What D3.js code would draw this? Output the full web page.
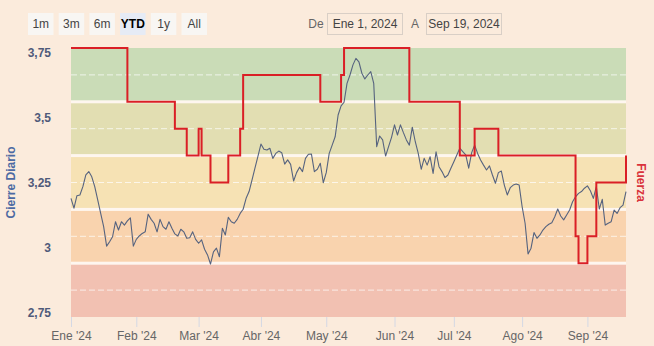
<!DOCTYPE html>
<html><head><meta charset="utf-8">
<script src="https://cdn.jsdelivr.net/npm/d3@7"></script>
<style>
body{margin:0;background:#FBEBDC;}
svg{display:block;font-family:"Liberation Sans",Arial,sans-serif;}
</style>
</head><body>
<svg id="c" width="654" height="346"></svg>
<script>
// ---- DATA ----
const closeDates = [
"2024-01-02","2024-01-03","2024-01-04","2024-01-05","2024-01-08","2024-01-09","2024-01-10","2024-01-11","2024-01-12",
"2024-01-15","2024-01-16","2024-01-17","2024-01-18","2024-01-19","2024-01-22","2024-01-23","2024-01-24","2024-01-25","2024-01-26",
"2024-01-29","2024-01-30","2024-01-31","2024-02-01","2024-02-02","2024-02-05","2024-02-06","2024-02-07","2024-02-08","2024-02-09",
"2024-02-12","2024-02-13","2024-02-14","2024-02-15","2024-02-16","2024-02-19","2024-02-20","2024-02-21","2024-02-22","2024-02-23",
"2024-02-26","2024-02-27","2024-02-28","2024-02-29","2024-03-01","2024-03-04","2024-03-05","2024-03-06","2024-03-07","2024-03-08",
"2024-03-11","2024-03-12","2024-03-13","2024-03-14","2024-03-15","2024-03-18","2024-03-19","2024-03-20","2024-03-21","2024-03-22",
"2024-03-25","2024-03-26","2024-03-27","2024-03-28","2024-03-29","2024-04-01","2024-04-02","2024-04-03","2024-04-04","2024-04-05",
"2024-04-08","2024-04-09","2024-04-10","2024-04-11","2024-04-12","2024-04-15","2024-04-16","2024-04-17","2024-04-18","2024-04-19",
"2024-04-22","2024-04-23","2024-04-24","2024-04-25","2024-04-26","2024-04-29","2024-04-30","2024-05-01","2024-05-02","2024-05-03",
"2024-05-06","2024-05-07","2024-05-08","2024-05-09","2024-05-10","2024-05-13","2024-05-14","2024-05-15","2024-05-16","2024-05-17",
"2024-05-20","2024-05-21","2024-05-22","2024-05-23","2024-05-24","2024-05-27","2024-05-28","2024-05-29","2024-05-30","2024-05-31",
"2024-06-03","2024-06-04","2024-06-05","2024-06-06","2024-06-07","2024-06-10","2024-06-11","2024-06-12","2024-06-13","2024-06-14",
"2024-06-17","2024-06-18","2024-06-19","2024-06-20","2024-06-21","2024-06-24","2024-06-25","2024-06-26","2024-06-27","2024-06-28",
"2024-07-01","2024-07-03","2024-07-04","2024-07-05","2024-07-08","2024-07-09","2024-07-10","2024-07-11","2024-07-12",
"2024-07-15","2024-07-16","2024-07-17","2024-07-18","2024-07-19","2024-07-22","2024-07-23","2024-07-24","2024-07-25","2024-07-26",
"2024-07-29","2024-07-30","2024-07-31","2024-08-01","2024-08-02","2024-08-05","2024-08-06","2024-08-07","2024-08-08","2024-08-09",
"2024-08-12","2024-08-13","2024-08-14","2024-08-15","2024-08-16","2024-08-19","2024-08-20","2024-08-21","2024-08-22","2024-08-23",
"2024-08-26","2024-08-27","2024-08-28","2024-08-29","2024-08-30","2024-09-02","2024-09-03","2024-09-04","2024-09-05","2024-09-06",
"2024-09-09","2024-09-10","2024-09-11","2024-09-12","2024-09-13","2024-09-16","2024-09-17","2024-09-18","2024-09-19"];
const closeValues = [
3.189,3.151,3.199,3.202,3.234,3.279,3.292,3.272,3.234,
3.183,3.131,3.080,3.005,3.022,3.041,3.099,3.067,3.099,3.086,
3.102,3.114,3.005,3.031,3.044,3.054,3.060,3.128,3.108,3.093,
3.060,3.108,3.080,3.070,3.099,3.074,3.052,3.044,3.070,3.060,
3.035,3.037,3.060,3.031,3.016,3.029,2.993,2.971,2.936,2.983,
2.997,2.964,3.074,3.048,3.116,3.099,3.093,3.108,3.131,3.147,
3.189,3.215,3.260,3.306,3.352,3.398,3.378,3.375,3.382,3.343,
3.362,3.371,3.365,3.321,3.337,3.320,3.256,3.288,3.309,3.292,
3.343,3.359,3.360,3.292,3.301,3.324,3.249,3.288,3.362,3.394,
3.426,3.510,3.545,3.559,3.632,3.664,3.703,3.728,3.715,3.671,
3.649,3.664,3.677,3.632,3.388,3.429,3.414,3.352,3.388,3.424,
3.472,3.433,3.472,3.442,3.414,3.394,3.463,3.407,3.362,3.301,
3.343,3.317,3.349,3.285,3.368,3.311,3.292,3.269,3.279,3.305,
3.330,3.382,3.369,3.356,3.305,3.365,3.394,3.362,3.337,
3.317,3.298,3.314,3.279,3.247,3.288,3.294,3.240,3.202,3.230,
3.240,3.244,3.240,3.157,3.093,2.975,2.997,3.057,3.035,3.048,
3.067,3.080,3.089,3.095,3.118,3.148,3.121,3.106,3.125,3.144,
3.176,3.195,3.208,3.215,3.228,3.237,3.218,3.189,3.234,3.148,
3.185,3.086,3.093,3.099,3.144,3.131,3.153,3.163,3.215];

const fuerzaDates = ["2024-01-02","2024-01-29","2024-02-20","2024-02-26","2024-03-01","2024-03-04","2024-03-07","2024-03-15",
"2024-03-21","2024-03-22","2024-04-29","2024-05-08","2024-05-09","2024-06-10","2024-07-03","2024-07-10","2024-07-22",
"2024-08-27","2024-08-28","2024-09-02","2024-09-05","2024-09-19"];
const fuerzaValues = [5,4,3.5,3,3.5,3,2.5,3,3.5,4.5,4,4.5,5,4,3,3.5,3,1.5,1,1.5,2.5,3];

const bandLevels = [0,1,2,3,4];               // Fuerza bands (from, from+1)
const bandColors = ["#F2C1B2","#F9D3AE","#F6E2B4","#E2DEB2","#CADCB7"];
const yTicks = [2.75,3,3.25,3.5,3.75];
const monthLabels = ["Ene '24","Feb '24","Mar '24","Abr '24","May '24","Jun '24","Jul '24","Ago '24","Sep '24"];
const rangeButtons = ["1m","3m","6m","YTD","1y","All"];
const selectedButton = "YTD";
const fromDate = "Ene 1, 2024", toDate = "Sep 19, 2024";

// ---- LAYOUT ----
const L = 71, R = 626, T = 48, B = 317;
const svg = d3.select("#c");
const fmtDay = d3.timeFormat("%Y-%m-%d");
const sessions = d3.timeDays(new Date(2024,0,2), new Date(2024,8,20))
  .filter(d => d.getDay() !== 0 && d.getDay() !== 6).map(fmtDay);

const x = d3.scalePoint().domain(sessions).range([L, R]);
const y = d3.scaleLinear().domain([2.732, 3.768]).range([B, T]);
const yF = d3.scaleLinear().domain([0, 5]).range([B, T]);

// plot background + bands
svg.append("rect").attr("x", L).attr("y", T).attr("width", R - L).attr("height", B - T).attr("fill", "#FEF6EF");
svg.append("g").selectAll("rect").data(bandLevels).join("rect")
  .attr("x", L).attr("width", R - L)
  .attr("y", d => yF(d + 1) + (d === 4 ? 0 : 1.5))
  .attr("height", d => yF(d) - yF(d + 1) - (d === 4 ? 1.5 : 3) + (d === 0 ? 1.5 : 0))
  .attr("fill", (d, i) => bandColors[i]);
svg.append("g").selectAll("line").data(bandLevels).join("line")
  .attr("x1", L).attr("x2", R)
  .attr("y1", d => yF(d + 0.5)).attr("y2", d => yF(d + 0.5))
  .attr("stroke", "#ffffff").attr("stroke-opacity", 0.7).attr("stroke-width", 1)
  .attr("stroke-dasharray", "6,3");

// x axis
const monthTicks = sessions.filter((s, i) => i === 0 || s.slice(5, 7) !== sessions[i - 1].slice(5, 7));
const xAxis = svg.append("g").attr("transform", `translate(0,${B})`)
  .call(d3.axisBottom(x).tickValues(monthTicks).tickSize(10).tickPadding(4)
    .tickFormat(d => monthLabels[+d.slice(5, 7) - 1]));
xAxis.select(".domain").remove();
xAxis.selectAll(".tick line").attr("stroke", "#d4d8e4");
xAxis.selectAll("text").attr("fill", "#666").attr("font-size", 12);

// y axis (left)
const loc = d3.formatLocale({decimal: ",", thousands: ".", grouping: [3], currency: ["", ""]});
const yAxis = svg.append("g").attr("transform", `translate(54,0)`)
  .call(d3.axisLeft(y).tickValues(yTicks).tickSize(0).tickPadding(3).tickFormat(loc.format(".2~f")));
yAxis.select(".domain").remove();
yAxis.selectAll("text").attr("fill", "#4F5A7A").attr("font-size", 12).attr("font-weight", "bold");

svg.append("text").attr("transform", `translate(15,${(T + B) / 2}) rotate(-90)`)
  .attr("text-anchor", "middle").attr("fill", "#4D6AA3").attr("font-size", 12).attr("font-weight", "bold")
  .text("Cierre Diario");
svg.append("text").attr("transform", `translate(637,${(T + B) / 2}) rotate(90)`)
  .attr("text-anchor", "middle").attr("fill", "#D9323B").attr("font-size", 12).attr("font-weight", "bold")
  .text("Fuerza");

// close line
const closeData = closeDates.map((d, i) => [d, closeValues[i]]);
svg.append("path").datum(closeData)
  .attr("fill", "none").attr("stroke", "#56637F").attr("stroke-width", 1.1).attr("stroke-linejoin", "round")
  .attr("d", d3.line().x(d => x(d[0])).y(d => y(d[1])));

// fuerza step line
const fData = fuerzaDates.map((d, i) => [d, fuerzaValues[i]]);
svg.append("path").datum(fData)
  .attr("fill", "none").attr("stroke", "#DA1F26").attr("stroke-width", 2)
  .attr("d", d3.line().curve(d3.curveStepAfter).x(d => x(d[0])).y(d => yF(d[1])));

// range selector
const bx = d3.scaleBand().domain(rangeButtons).range([28, 207]).paddingInner(0.17);
const btn = svg.append("g").selectAll("g").data(rangeButtons).join("g");
btn.append("rect").attr("x", d => bx(d)).attr("y", 13).attr("width", bx.bandwidth()).attr("height", 22)
  .attr("fill", d => d === selectedButton ? "#E6EBF5" : "#F8F6F3");
btn.append("text").attr("x", d => bx(d) + bx.bandwidth() / 2).attr("y", 28)
  .attr("text-anchor", "middle").attr("font-size", 12)
  .attr("fill", d => d === selectedButton ? "#000" : "#444")
  .attr("font-weight", d => d === selectedButton ? "bold" : "normal")
  .text(d => d);

svg.append("text").attr("x", 316).attr("y", 28).attr("text-anchor", "middle").attr("font-size", 12).attr("fill", "#666").text("De");
svg.append("text").attr("x", 415).attr("y", 28).attr("text-anchor", "middle").attr("font-size", 12).attr("fill", "#666").text("A");
[[327, fromDate], [426, toDate]].forEach(([bxp, t]) => {
  svg.append("rect").attr("x", bxp + 0.5).attr("y", 13.5).attr("width", 75).attr("height", 21)
    .attr("fill", "none").attr("stroke", "#d9cfc6");
  svg.append("text").attr("x", bxp + 38).attr("y", 28).attr("text-anchor", "middle")
    .attr("font-size", 12).attr("fill", "#444").text(t);
});
</script>
</body></html>
